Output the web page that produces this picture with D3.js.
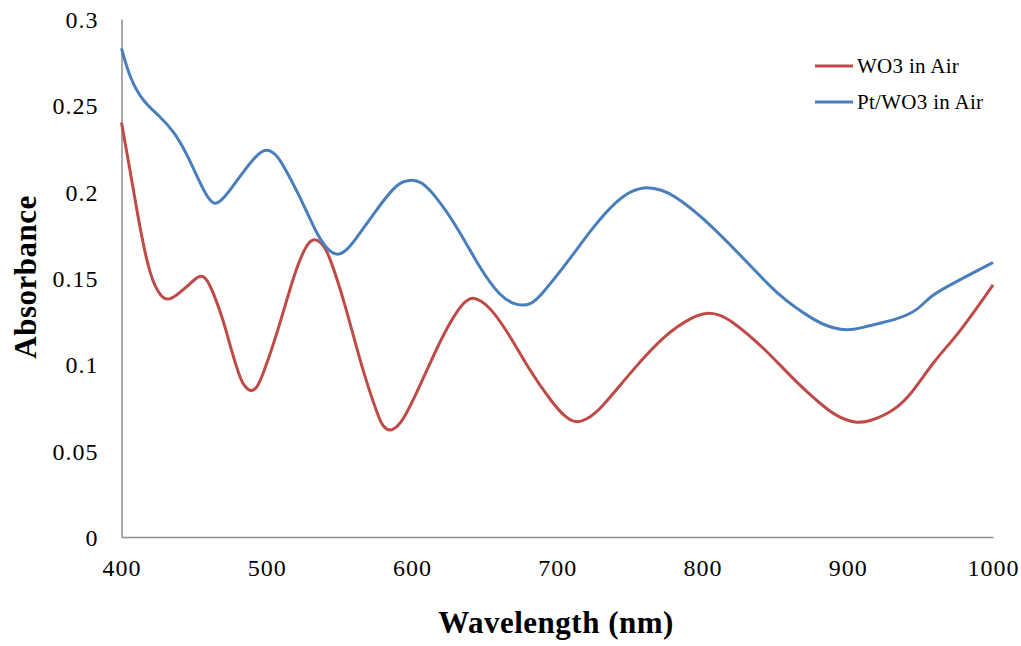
<!DOCTYPE html>
<html>
<head>
<meta charset="utf-8">
<script src="https://cdn.jsdelivr.net/npm/d3@7/dist/d3.min.js"></script>
<style>
  html, body { margin: 0; padding: 0; background: #fff; }
  svg { display: block; }
  text { font-family: "Liberation Serif", "Times New Roman", serif; fill: #000; }
</style>
</head>
<body>
<svg id="chart" width="1021" height="646"></svg>
<script>
// Absorbance spectra (wavelength in nm, absorbance in a.u.)
const wo3Wavelength = [400, 406, 413, 420, 427, 432, 438, 445, 450, 455, 459, 463, 470, 476, 482, 485, 489, 493, 497, 508, 519, 527, 532, 537, 542, 554, 565, 577, 580, 585, 590, 594, 603, 612, 622, 631, 637, 642, 647, 654, 668, 679, 697, 706, 713, 720, 729, 752, 775, 794, 803, 811, 819, 842, 865, 888, 898, 906, 915, 927, 941, 959, 975, 1000];
const wo3Absorbance = [0.240, 0.212, 0.177, 0.150, 0.139, 0.137, 0.140, 0.145, 0.149, 0.152, 0.149, 0.142, 0.126, 0.107, 0.091, 0.087, 0.084, 0.086, 0.093, 0.120, 0.153, 0.169, 0.173, 0.171, 0.166, 0.135, 0.099, 0.069, 0.064, 0.061, 0.064, 0.068, 0.083, 0.100, 0.118, 0.131, 0.137, 0.139, 0.137, 0.133, 0.116, 0.099, 0.077, 0.069, 0.066, 0.068, 0.073, 0.097, 0.118, 0.128, 0.130, 0.129, 0.126, 0.110, 0.089, 0.072, 0.068, 0.066, 0.067, 0.071, 0.079, 0.102, 0.116, 0.146];

const ptWavelength = [400, 406, 415, 426, 436, 445, 454, 459, 464, 469, 475, 486, 494, 500, 506, 511, 523, 534, 542, 548, 554, 561, 575, 588, 594, 600, 606, 615, 631, 647, 661, 670, 676, 682, 688, 707, 725, 741, 752, 762, 772, 780, 798, 830, 853, 876, 886, 895, 904, 913, 934, 948, 957, 975, 1000];
const ptAbsorbance = [0.283, 0.265, 0.252, 0.244, 0.235, 0.222, 0.205, 0.197, 0.192, 0.195, 0.201, 0.214, 0.222, 0.225, 0.222, 0.216, 0.197, 0.176, 0.166, 0.163, 0.165, 0.172, 0.189, 0.203, 0.206, 0.207, 0.206, 0.199, 0.180, 0.155, 0.139, 0.135, 0.134, 0.135, 0.139, 0.159, 0.180, 0.195, 0.201, 0.203, 0.201, 0.198, 0.187, 0.160, 0.139, 0.126, 0.122, 0.120, 0.120, 0.122, 0.126, 0.131, 0.140, 0.148, 0.159];

const xTicks = [400, 500, 600, 700, 800, 900, 1000];
const yTicks = [0, 0.05, 0.1, 0.15, 0.2, 0.25, 0.3];
const yTickLabels = ["0", "0.05", "0.1", "0.15", "0.2", "0.25", "0.3"];

const seriesNames = ["WO3 in Air", "Pt/WO3 in Air"];
const seriesColors = ["#BE4B48", "#4A7EBB"];

const svg = d3.select("#chart");
const plot = { left: 121.5, right: 993, top: 19, bottom: 537 };

const x = d3.scaleLinear().domain([400, 1000]).range([plot.left, plot.right]);
const y = d3.scaleLinear().domain([0, 0.3]).range([plot.bottom, plot.top]);

// Axes: plain gray lines, no tick marks
const xAxis = d3.axisBottom(x).tickValues(xTicks).tickSize(0).tickPadding(22).tickFormat(d3.format("d"));
const yAxis = d3.axisLeft(y).tickValues(yTicks).tickSize(0).tickPadding(23)
  .tickFormat((d, i) => yTickLabels[i]);

const gx = svg.append("g").attr("transform", `translate(0,${plot.bottom})`).call(xAxis);
const gy = svg.append("g").attr("transform", `translate(${plot.left},0)`).call(yAxis);

[gx, gy].forEach(g => {
  g.attr("font-family", "Liberation Serif, Times New Roman, serif");
  g.select(".domain").attr("stroke", "#8c8c8c").attr("stroke-width", 1.5);
  g.selectAll(".tick text")
    .attr("font-size", 24)
    .attr("letter-spacing", 1)
    .attr("fill", "#000");
});
gy.selectAll(".tick text").attr("dy", "0.35em");
gx.selectAll(".tick text").attr("dy", "0.71em");

// Spectra, drawn as smooth B-spline curves through the sampled points
const line = d3.line()
  .x(d => x(d[0]))
  .y(d => y(d[1]))
  .curve(d3.curveBasis);

const series = [
  d3.zip(wo3Wavelength, wo3Absorbance),
  d3.zip(ptWavelength, ptAbsorbance)
];

series.forEach((pts, i) => {
  svg.append("path")
    .datum(pts)
    .attr("fill", "none")
    .attr("stroke", seriesColors[i])
    .attr("stroke-width", 3)
    .attr("stroke-linejoin", "round")
    .attr("d", line);
});

// Axis titles
svg.append("text")
  .attr("x", 556)
  .attr("y", 633)
  .attr("text-anchor", "middle")
  .attr("font-size", 31)
  .attr("font-weight", "bold")
  .attr("letter-spacing", 0.5)
  .text("Wavelength (nm)");

svg.append("text")
  .attr("transform", "translate(36,277) rotate(-90)")
  .attr("text-anchor", "middle")
  .attr("font-size", 31)
  .attr("font-weight", "bold")
  .attr("letter-spacing", 0.5)
  .text("Absorbance");

// Legend
const legend = svg.append("g").attr("transform", "translate(815,66)");
seriesNames.forEach((name, i) => {
  const row = legend.append("g").attr("transform", `translate(0,${i * 36})`);
  row.append("line")
    .attr("x1", 0).attr("x2", 38)
    .attr("y1", 0).attr("y2", 0)
    .attr("stroke", seriesColors[i])
    .attr("stroke-width", 3);
  row.append("text")
    .attr("x", 42)
    .attr("y", 0)
    .attr("dy", "0.35em")
    .attr("font-size", 21)
    .attr("letter-spacing", 0.3)
    .text(name);
});
</script>
</body>
</html>
